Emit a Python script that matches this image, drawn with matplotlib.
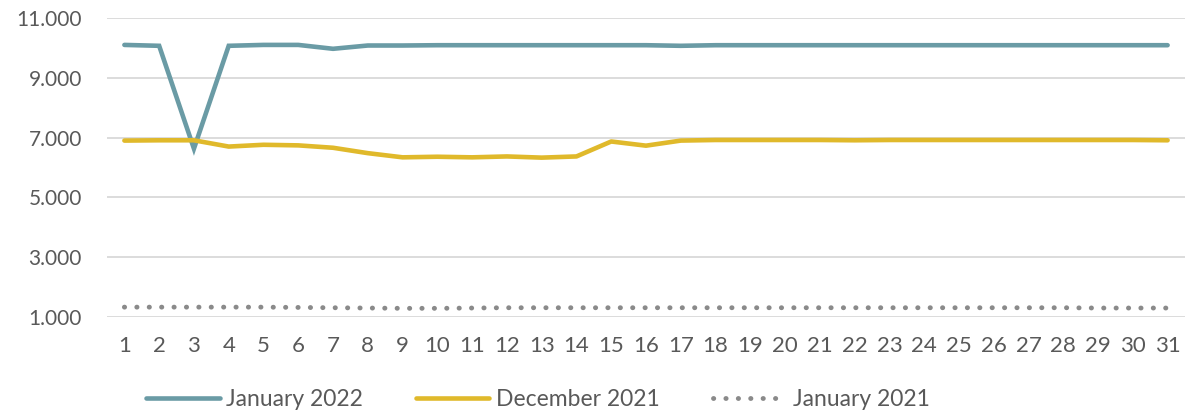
import matplotlib
matplotlib.use("Agg")
import matplotlib.pyplot as plt
from matplotlib.ticker import FuncFormatter

plt.rcParams['font.family'] = ['Lato', 'DejaVu Sans']

days = list(range(1, 32))

jan_2022 = [10100, 10070, 6630, 10070, 10100, 10100, 9970, 10080, 10080, 10090,
            10090, 10090, 10090, 10090, 10090, 10090, 10070, 10090, 10090, 10090,
            10090, 10090, 10090, 10090, 10090, 10090, 10090, 10090, 10090, 10090,
            10090]
dec_2021 = [6900, 6910, 6910, 6700, 6760, 6740, 6660, 6480, 6340, 6360,
            6340, 6370, 6330, 6370, 6870, 6730, 6900, 6920, 6920, 6920,
            6920, 6910, 6920, 6920, 6920, 6920, 6920, 6920, 6920, 6920,
            6910]
jan_2021 = [1330, 1330, 1330, 1330, 1330, 1320, 1310, 1300, 1290, 1290,
            1300, 1310, 1310, 1310, 1310, 1310, 1310, 1310, 1310, 1310,
            1310, 1310, 1310, 1310, 1310, 1310, 1310, 1310, 1300, 1300,
            1300]

series_names = ["January 2022", "December 2021", "January 2021"]
teal = "#6A9BA5"
gold = "#E0B92B"
grey = "#8A8A8A"
text_col = "#595959"

fig = plt.figure(figsize=(11.87, 4.17), dpi=100)
ax = fig.add_axes([107 / 1187, 100 / 417, 1078 / 1187, 299 / 417])

ax.plot(days, jan_2022, color=teal, lw=3.3, solid_capstyle="round",
        solid_joinstyle="miter", label=series_names[0])
ax.plot(days, dec_2021, color=gold, lw=3.3, solid_capstyle="round",
        label=series_names[1])
ax.plot(days, jan_2021, color=grey, lw=3.5, linestyle=(0, (0.05, 2.5)),
        dash_capstyle="round", label=series_names[2])

ax.set_xlim(0.5, 31.5)
ax.set_ylim(1000, 11000)
ax.set_yticks([1000, 3000, 5000, 7000, 9000, 11000])
ax.yaxis.set_major_formatter(FuncFormatter(lambda v, p: f"{int(v):,}".replace(",", ".")))
ax.set_xticks(days)
ax.set_xticklabels([str(d) for d in days])

ax.grid(axis="y", color="#D9D9D9", lw=1.3)
ax.set_axisbelow(True)
for s in ax.spines.values():
    s.set_visible(False)
ax.tick_params(axis="both", length=0, colors=text_col)
ax.tick_params(axis="x", pad=14, labelsize=16)
ax.tick_params(axis="y", pad=18, labelsize=15)

fig.legend(loc="center", bbox_to_anchor=(538 / 1187, 1 - 400 / 417), ncol=3,
           frameon=False, fontsize=16.5, handlelength=3.2, columnspacing=2.3,
           handletextpad=0.3, labelcolor=text_col)

fig.savefig("out.png", dpi=100)
